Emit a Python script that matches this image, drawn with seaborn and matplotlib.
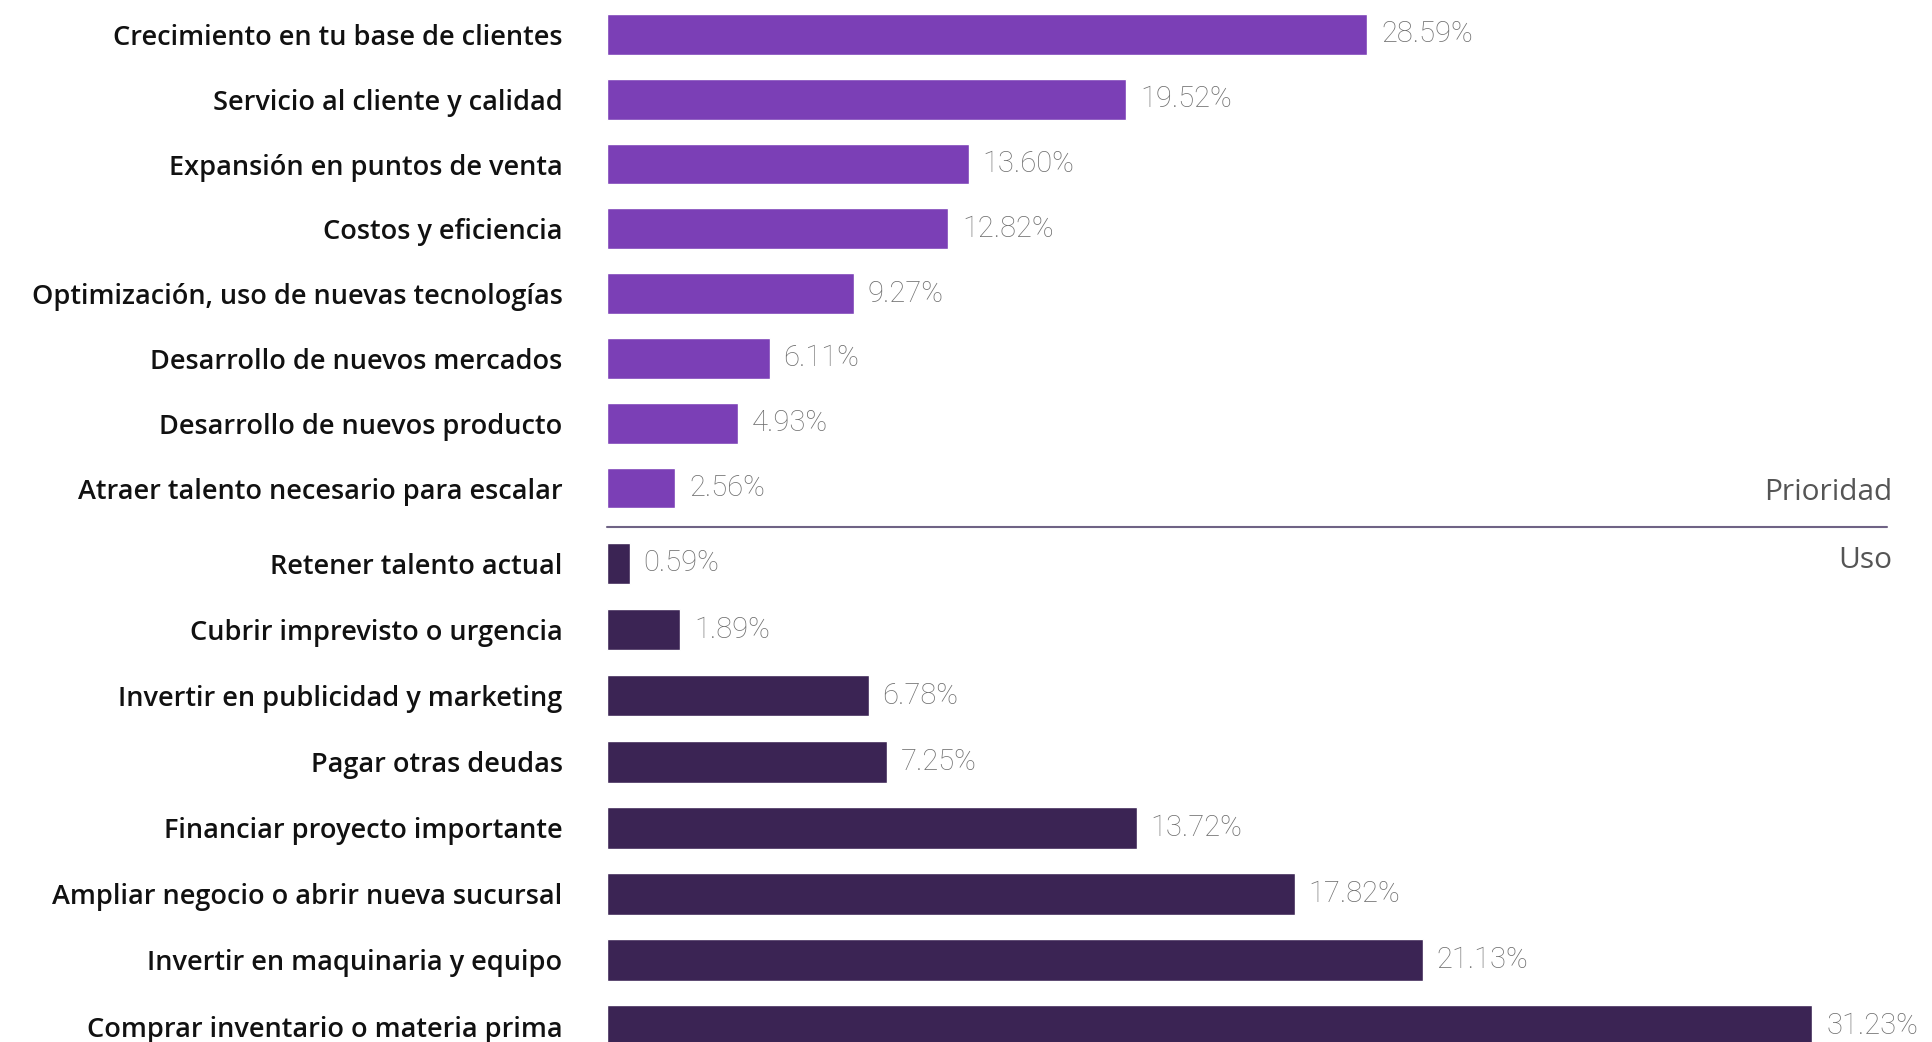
import matplotlib
matplotlib.use("Agg")
import matplotlib.pyplot as plt
import seaborn as sns
import pandas as pd
from matplotlib.lines import Line2D

sns.set_theme(style="white")
plt.rcParams['font.family'] = ['Open Sans', 'DejaVu Sans']

prioridad_labels = [
    "Crecimiento en tu base de clientes",
    "Servicio al cliente y calidad",
    "Expansión en puntos de venta",
    "Costos y eficiencia",
    "Optimización, uso de nuevas tecnologías",
    "Desarrollo de nuevos mercados",
    "Desarrollo de nuevos producto",
    "Atraer talento necesario para escalar",
]
prioridad_values = [28.59, 19.52, 13.60, 12.82, 9.27, 6.11, 4.93, 2.56]

uso_labels = [
    "Retener talento actual",
    "Cubrir imprevisto o urgencia",
    "Invertir en publicidad y marketing",
    "Pagar otras deudas",
    "Financiar proyecto importante",
    "Ampliar negocio o abrir nueva sucursal",
    "Invertir en maquinaria y equipo",
    "Comprar inventario o materia prima",
]
uso_values = [0.59, 1.89, 6.78, 7.25, 13.72, 17.82, 21.13, 31.23]

color_top = "#7B3FB6"
color_bottom = "#3B2454"

W, H = 1933, 1042
fig = plt.figure(figsize=(W / 100, H / 100), dpi=100)

left = 607 / W
width = 1 - left

def fy(px):
    return 1 - px / H

sp_top = (488 - 34.5) / 7
top_y0 = 34.5 - sp_top / 2
top_y1 = 488 + sp_top / 2
ax1 = fig.add_axes([left, fy(top_y1), width, (top_y1 - top_y0) / H])

sp_bot = (1026 - 563.5) / 7
bot_y0 = 563.5 - sp_bot / 2
bot_y1 = 1026 + sp_bot / 2
ax2 = fig.add_axes([left, fy(bot_y1), width, (bot_y1 - bot_y0) / H])

df1 = pd.DataFrame({"label": prioridad_labels, "value": prioridad_values})
df2 = pd.DataFrame({"label": uso_labels, "value": uso_values})

sns.barplot(data=df1, y="label", x="value", orient="h", color=color_top,
            width=0.63, ax=ax1, saturation=1)
sns.barplot(data=df2, y="label", x="value", orient="h", color=color_bottom,
            width=0.63, ax=ax2, saturation=1)

ax1.set_xlim(0, 1326 / 26.6)
ax2.set_xlim(0, 1326 / 38.6)

val_family = ["Roboto", "Open Sans", "DejaVu Sans"]

for ax in (ax1, ax2):
    ax.set_xlabel("")
    ax.set_ylabel("")
    ax.set_xticks([])
    for s in ax.spines.values():
        s.set_visible(False)
    ax.tick_params(axis="y", length=0, pad=32, labelsize=19.5)
    for t in ax.get_yticklabels():
        t.set_fontweight(600)
        t.set_color("#111111")
    for c in ax.containers:
        ax.bar_label(c, labels=[f"{v:.2f}%" for v in c.datavalues], padding=10,
                     fontsize=21, color="#6e6e6e", fontweight="light",
                     family=val_family)
    ax.patch.set_alpha(0)

ax1.set_ylim(7.5, -0.5)
ax2.set_ylim(7.5, -0.5)

fig.add_artist(Line2D([607 / W, 1887 / W], [fy(526.5), fy(526.5)],
                      color="#6f6385", linewidth=1.5))
fig.text(1892 / W, fy(493), "Prioridad", ha="right", va="center",
         fontsize=21.5, color="#555555")
fig.text(1892 / W, fy(560), "Uso", ha="right", va="center",
         fontsize=21.5, color="#555555")

fig.savefig("out.png", dpi=100, facecolor="white")
